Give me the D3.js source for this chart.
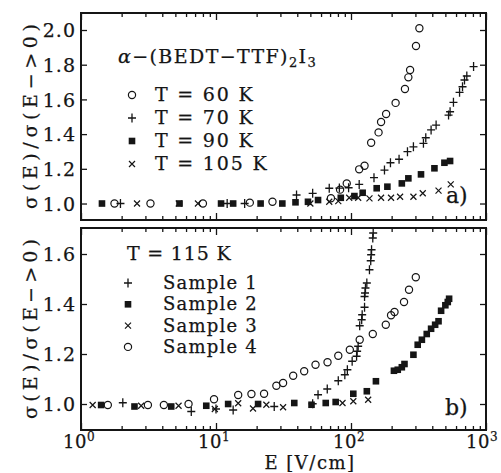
<!DOCTYPE html>
<html>
<head>
<meta charset="utf-8">
<script src="https://cdnjs.cloudflare.com/ajax/libs/d3/7.8.5/d3.min.js"></script>
<style>
  body { margin: 0; background: #fff; }
  svg { display: block; }
  text { font-family: "DejaVu Serif", serif; fill: #151515; stroke: #151515; stroke-width: 0.25; }
</style>
</head>
<body>
<div id="app"></div>
<script>
// data: [E (V/cm), sigma(E)/sigma(E->0)]
const T60 = [[1.77,1.0],[3.27,1.0],[8.0,1.0],[17.8,1.005],[26.2,1.01],[71,1.03],[83,1.08],[93,1.116],
  [115,1.197],[126,1.218],[141,1.35],[160,1.41],[167,1.47],[182,1.516],[214,1.58],[251,1.66],
  [266,1.727],[274,1.77],[303,1.908],[321,2.01]];
const T70 = [[1.96,1.0],[12.1,1.0],[16.3,1.0],[39.5,1.049],[52,1.059],[69,1.088],[82,1.089],[96,1.091],
  [115,1.11],[148,1.149],[177,1.193],[196,1.235],[227,1.255],[262,1.299],[290,1.327],[344,1.347],
  [358,1.379],[392,1.424],[427,1.452],[528,1.51],[542,1.529],[574,1.583],[637,1.641],[670,1.673],
  [693,1.712],[721,1.735],[809,1.789]];
const T90 = [[1.43,1.0],[5.37,1.0],[10.9,1.0],[13.4,1.0],[21.4,1.0],[31,1.0],[38.8,1.007],[48,1.01],
  [57,1.02],[84,1.033],[106,1.043],[122,1.062],[155,1.088],[186,1.097],[238,1.116],[266,1.145],
  [330,1.168],[415,1.203],[492,1.235],[542,1.245]];
const T105 = [[2.6,1.0],[5.3,1.0],[7.35,1.0],[50,1.0],[69,1.01],[80.5,1.014],[97,1.033],[113,1.033],
  [137,1.03],[167,1.033],[198,1.033],[231,1.039],[290,1.039],[340,1.059],[445,1.074],[548,1.11]];

const S1 = [[2.04,1.005],[6.56,0.97],[10,0.98],[13.4,0.976],[27,0.99],[52,1.001],[57,1.037],[66.7,1.06],
  [80.5,1.093],[90,1.117],[94,1.137],[102,1.171],[110,1.191],[111,1.211],[113,1.231],[116,1.313],
  [120,1.337],[121,1.357],[126,1.387],[126,1.43],[127,1.444],[128,1.464],[131,1.484],[137,1.537],
  [140,1.573],[141,1.597],[142,1.617],[145,1.664],[146,1.684]];
const S2 = [[1.41,0.996],[2.49,0.99],[4.66,0.99],[8.47,0.993],[12.3,1.0],[20.5,1.0],[38,1.004],[51,0.997],
  [65,1.004],[77,1.008],[104,1.041],[131,1.051],[153,1.091],[208,1.133],[222,1.137],[238,1.147],
  [249,1.16],[290,1.197],[312,1.237],[335,1.257],[364,1.28],[392,1.301],[420,1.317],[445,1.331],
  [465,1.373],[500,1.395],[521,1.408],[533,1.421]];
const S3 = [[1.22,0.996],[2.79,0.993],[5.28,0.993],[9.8,0.98],[14.6,1.003],[18.8,0.982],[23.6,0.997],
  [31.4,0.987],[86.5,1.004],[104,1.011],[134,1.017]];
const S4 = [[1.58,0.996],[3.13,0.996],[4.11,0.996],[6.26,1.0],[9.67,1.019],[14.6,1.036],[18.3,1.04],
  [22.7,1.041],[28,1.073],[31.4,1.084],[37.3,1.113],[45,1.131],[54.6,1.157],[67,1.167],[80.5,1.193],
  [98,1.217],[116,1.257],[145,1.28],[181,1.317],[198,1.355],[210,1.368],[247,1.408],[269,1.457],[302,1.507]];

const TICKS_A = [1.0, 1.2, 1.4, 1.6, 1.8, 2.0];
const TICKS_B = [1.0, 1.2, 1.4, 1.6];
const X_MAJOR = [1, 10, 100, 1000];
const LEGEND_A = ['T = 60 K', 'T = 70 K', 'T = 90 K', 'T = 105 K'];
const LEGEND_B = ['Sample 1', 'Sample 2', 'Sample 3', 'Sample 4'];

const W = 501, H = 473;
const L = 81, R = 486;
const ink = '#151515';

const svg = d3.select('#app').append('svg').attr('width', W).attr('height', H);

const x = d3.scaleLog().domain([1, 1000]).range([L, R]);
const xMinor = [];
[1, 10, 100].forEach(d => { for (let k = 2; k <= 9; k++) xMinor.push(d * k); });

const symbols = {
  circle: g => g.append('circle').attr('r', 3.6).attr('fill', 'none').attr('stroke', ink).attr('stroke-width', 1.2),
  plus: g => g.append('path').attr('d', 'M-4,0H4M0,-4.5V4.5').attr('stroke', ink).attr('stroke-width', 1.3),
  square: g => g.append('rect').attr('x', -3.3).attr('y', -3.3).attr('width', 6.6).attr('height', 6.6).attr('fill', ink),
  cross: g => g.append('path').attr('d', 'M-3,-3L3,3M-3,3L3,-3').attr('stroke', ink).attr('stroke-width', 1.2)
};

function panel(top, bottom, yDomain, yTicks) {
  const y = d3.scaleLinear().domain(yDomain).range([bottom, top]);
  const g = svg.append('g');
  const clean = a => a.call(s => s.select('.domain').remove())
                      .call(s => s.selectAll('line').attr('stroke', ink).attr('stroke-width', 1.3));

  g.append('g').attr('transform', `translate(0,${bottom})`)
    .call(d3.axisBottom(x).tickValues(X_MAJOR).tickSize(-7).tickFormat('')).call(clean);
  g.append('g').attr('transform', `translate(0,${bottom})`)
    .call(d3.axisBottom(x).tickValues(xMinor).tickSize(-4).tickFormat('')).call(clean);
  g.append('g').attr('transform', `translate(0,${top})`)
    .call(d3.axisTop(x).tickValues(X_MAJOR).tickSize(-7).tickFormat('')).call(clean);
  g.append('g').attr('transform', `translate(0,${top})`)
    .call(d3.axisTop(x).tickValues(xMinor).tickSize(-4).tickFormat('')).call(clean);
  g.append('g').attr('transform', `translate(${R},0)`)
    .call(d3.axisRight(y).tickValues(yTicks).tickSize(-6).tickFormat('')).call(clean);

  const left = g.append('g').attr('transform', `translate(${L},0)`)
    .call(d3.axisLeft(y).tickValues(yTicks).tickSize(-6).tickPadding(5).tickFormat(d3.format('.1f')))
    .call(clean);
  left.selectAll('text').attr('font-family', '"DejaVu Serif", serif').attr('font-size', 19)
    .attr('letter-spacing', 1).attr('fill', ink).attr('dy', '0.36em');

  g.append('rect').attr('x', L).attr('y', top).attr('width', R - L).attr('height', bottom - top)
    .attr('fill', 'none').attr('stroke', ink).attr('stroke-width', 2);

  g.append('text')
    .attr('transform', `translate(37,${(top + bottom) / 2}) rotate(-90)`)
    .attr('text-anchor', 'middle').attr('font-size', 19)
    .attr('textLength', bottom - top - 22).attr('lengthAdjust', 'spacing')
    .text('σ(E)/σ(E−>0)');
  return y;
}

function drawSeries(y, data, kind) {
  svg.append('g').selectAll('g').data(data).enter().append('g')
    .attr('transform', d => `translate(${x(d[0])},${y(d[1])})`)
    .each(function () { symbols[kind](d3.select(this)); });
}

// panel a
const yA = panel(13, 220, [0.905, 2.098], TICKS_A);
drawSeries(yA, T105, 'cross');
drawSeries(yA, T90, 'square');
drawSeries(yA, T70, 'plus');
drawSeries(yA, T60, 'circle');

const title = svg.append('text').attr('x', 118).attr('y', 63).attr('font-size', 19).attr('letter-spacing', 1.4);
title.append('tspan').attr('font-style', 'italic').text('α');
title.append('tspan').text('−(BEDT−TTF)');
title.append('tspan').attr('font-size', 13).attr('dy', 4).text('2');
title.append('tspan').attr('dy', -4).text('I');
title.append('tspan').attr('font-size', 13).attr('dy', 4).text('3');

const kindsA = ['circle', 'plus', 'square', 'cross'];
LEGEND_A.forEach((t, i) => {
  const yy = 101 + i * 23;
  symbols[kindsA[i]](svg.append('g').attr('transform', `translate(132,${yy - 6})`));
  svg.append('text').attr('x', 155).attr('y', yy).attr('font-size', 19).attr('letter-spacing', 1.8).text(t);
});
svg.append('text').attr('x', 446).attr('y', 203).attr('font-size', 22).text('a)');

// panel b
const yB = panel(228, 430, [0.896, 1.704], TICKS_B);
drawSeries(yB, S3, 'cross');
drawSeries(yB, S2, 'square');
drawSeries(yB, S1, 'plus');
drawSeries(yB, S4, 'circle');

svg.append('text').attr('x', 127).attr('y', 260).attr('font-size', 19).attr('letter-spacing', 0.8).text('T = 115 K');
const kindsB = ['plus', 'square', 'cross', 'circle'];
LEGEND_B.forEach((t, i) => {
  const yy = 289 + i * 21.3;
  symbols[kindsB[i]](svg.append('g').attr('transform', `translate(128,${yy - 6})`));
  svg.append('text').attr('x', 163).attr('y', yy).attr('font-size', 18).attr('letter-spacing', 1.2).text(t);
});
svg.append('text').attr('x', 445).attr('y', 415).attr('font-size', 22).text('b)');

// x tick labels with superscript exponents
X_MAJOR.forEach(v => {
  const t = svg.append('text').attr('x', Math.min(x(v) - 2, 482)).attr('y', 448).attr('text-anchor', 'middle')
    .attr('font-size', 18).attr('letter-spacing', 0.5);
  t.append('tspan').text('10');
  t.append('tspan').attr('font-size', 12).attr('dy', -7).text(Math.round(Math.log10(v)));
});
svg.append('text').attr('x', 310).attr('y', 469).attr('text-anchor', 'middle')
  .attr('font-size', 18).attr('letter-spacing', 1.5).text('E [V/cm]');
</script>
</body>
</html>
